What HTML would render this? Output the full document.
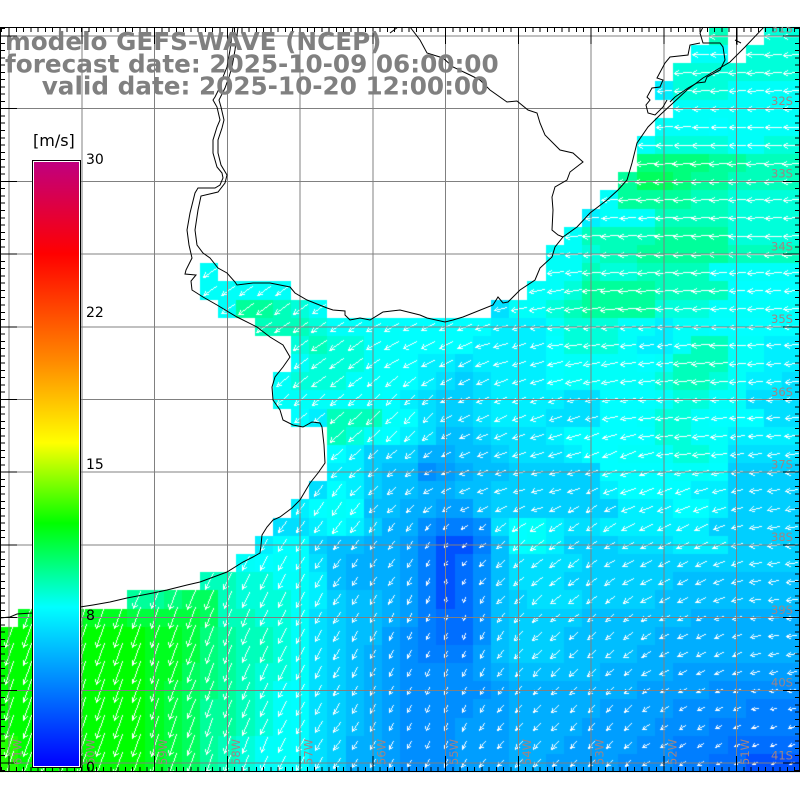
<!DOCTYPE html>
<html><head><meta charset="utf-8">
<style>
html,body{margin:0;padding:0;background:#fff;}
#wrap{position:relative;width:800px;height:800px;overflow:hidden;background:#fff;}
canvas,svg{position:absolute;left:0;top:0;}
</style></head><body>
<div id="wrap">
<canvas id="c" width="800" height="800"></canvas>
<svg width="800" height="800" viewBox="0 0 800 800" xmlns="http://www.w3.org/2000/svg">
<defs>
<clipPath id="mc"><rect x="0" y="27" width="800" height="745"/></clipPath>
<linearGradient id="cb" x1="0" y1="0" x2="0" y2="1">
<stop offset="0" stop-color="#c0007f"/>
<stop offset="0.152" stop-color="#ff0000"/>
<stop offset="0.328" stop-color="#ff8800"/>
<stop offset="0.465" stop-color="#ffff00"/>
<stop offset="0.598" stop-color="#00ff00"/>
<stop offset="0.737" stop-color="#00ffff"/>
<stop offset="1" stop-color="#0000ff"/>
</linearGradient>
</defs>
<g stroke="#808080" stroke-width="1" shape-rendering="crispEdges" clip-path="url(#mc)">
<line x1="9" y1="27" x2="9" y2="772"/><line x1="81.75" y1="27" x2="81.75" y2="772"/><line x1="154.5" y1="27" x2="154.5" y2="772"/><line x1="227.25" y1="27" x2="227.25" y2="772"/><line x1="300" y1="27" x2="300" y2="772"/><line x1="372.75" y1="27" x2="372.75" y2="772"/><line x1="445.5" y1="27" x2="445.5" y2="772"/><line x1="518.25" y1="27" x2="518.25" y2="772"/><line x1="591" y1="27" x2="591" y2="772"/><line x1="663.75" y1="27" x2="663.75" y2="772"/><line x1="736.5" y1="27" x2="736.5" y2="772"/>
<line x1="0" y1="36" x2="800" y2="36"/><line x1="0" y1="108.7" x2="800" y2="108.7"/><line x1="0" y1="181.4" x2="800" y2="181.4"/><line x1="0" y1="254.1" x2="800" y2="254.1"/><line x1="0" y1="326.8" x2="800" y2="326.8"/><line x1="0" y1="399.5" x2="800" y2="399.5"/><line x1="0" y1="472.2" x2="800" y2="472.2"/><line x1="0" y1="544.9" x2="800" y2="544.9"/><line x1="0" y1="617.6" x2="800" y2="617.6"/><line x1="0" y1="690.3" x2="800" y2="690.3"/><line x1="0" y1="763" x2="800" y2="763"/>
</g>
<g fill="none" stroke="#000" stroke-width="1" clip-path="url(#mc)">
<polyline points="764,27 745,47 730,62 703,78 687,90 673,103 660,115 648,127 637,143 632,163 627,180 618,190 607,200 590,213 577,227 563,237 555,247 552,257 540,268 535,280 520,290 508,302 503,303 498,297 493,305 463,317 453,320 445,322 427,318 420,315 400,310 383,312 370,320 360,318 350,320 345,315 345,311 333,310 327,308 307,300 295,293 290,287 270,283 253,283 237,285 235,282 227,273 218,268 210,258 203,253 197,245 195,230 198,210 201,196 218,192 225,183 227,175 221,165 218,153 218,140 222,128 224,120 221,107 219,100 225,88 229,77 232,67 235,50 238,27"/>
<polyline points="233,27 230,50 227,67 223,77 220,87 215,97 213,100 217,107 220,120 217,127 213,140 213,153 217,167 222,173 223,178 220,185 215,188 198,188 195,193 190,213 187,230 189,245 192,258 186,270 185,274 196,275 191,281 192,290 203,297 217,305 237,317 257,327 270,337 283,345 290,357 283,367 275,377 272,387 273,400 280,410 283,420 293,425 303,427 312,422 320,423 322,427 324,445 325,463 318,473 310,483 300,500 292,508 280,517 273,520 267,527 262,535 261,545 260,553 253,557 243,562 227,572 200,582 187,585 167,590 153,593 127,598 110,602 93,605 80,607 32,613 17,614 10,617 0,618"/>
<polyline points="410,27 420,40 427,53 443,58 453,67 470,75 480,80 490,90 507,102 517,101 528,110 537,113 540,123 545,135 560,150 573,153 583,162 570,172 567,180 555,187 552,197 553,210 552,230 558,235 563,237"/>
<polyline points="390,33 398,27"/>
<polyline points="703,27 700,33 703,43 720,43 723,47 725,60 720,70 707,77 705,82 697,83 688,88 675,97 670,102"/>
<polyline points="700,43 690,45 688,55 670,57 665,63 657,78 663,80 660,87 652,88 647,97 650,100 646,105 648,113 655,115 663,107 667,100"/>
<polyline points="737,27 737,45"/><polyline points="735,40 741,43"/>
</g>
<g stroke="#000" shape-rendering="crispEdges" fill="none">
<rect x="0.5" y="27.5" width="799" height="744" stroke-width="1"/>
<line x1="1.225" y1="29.5" x2="800" y2="29.5" stroke-width="5" stroke-dasharray="1 6.275"/>
<line x1="1.225" y1="769.5" x2="800" y2="769.5" stroke-width="5" stroke-dasharray="1 6.275"/>
<line x1="2.5" y1="28.23" x2="2.5" y2="772" stroke-width="5" stroke-dasharray="1 6.27"/>
<line x1="797.5" y1="28.23" x2="797.5" y2="772" stroke-width="5" stroke-dasharray="1 6.27"/>
<path stroke-width="1" d="M9,27V44M81.75,27V44M154.5,27V44M227.25,27V44M300,27V44M372.75,27V44M445.5,27V44M518.25,27V44M591,27V44M663.75,27V44M736.5,27V44
M9,756V772M81.75,756V772M154.5,756V772M227.25,756V772M300,756V772M372.75,756V772M445.5,756V772M518.25,756V772M591,756V772M663.75,756V772M736.5,756V772
M0,36H17M0,108.7H17M0,181.4H17M0,254.1H17M0,326.8H17M0,399.5H17M0,472.2H17M0,544.9H17M0,617.6H17M0,690.3H17M0,763H17
M783,36H800M783,108.7H800M783,181.4H800M783,254.1H800M783,326.8H800M783,399.5H800M783,472.2H800M783,544.9H800M783,617.6H800M783,690.3H800M783,763H800"/>
</g>
<g font-family="'DejaVu Sans','Liberation Sans',sans-serif" font-size="11.5" fill="#a08484" clip-path="url(#mc)">
<text x="771" y="32.3">31S</text><text x="771" y="105">32S</text><text x="771" y="177.7">33S</text><text x="771" y="250.4">34S</text><text x="771" y="323.1">35S</text><text x="771" y="395.8">36S</text><text x="771" y="468.5">37S</text><text x="771" y="541.2">38S</text><text x="771" y="613.9">39S</text><text x="771" y="686.6">40S</text><text x="771" y="759.3">41S</text>
<text transform="translate(21.5,765) rotate(-90)">61W</text>
<text transform="translate(94.25,765) rotate(-90)">60W</text>
<text transform="translate(167,765) rotate(-90)">59W</text>
<text transform="translate(239.75,765) rotate(-90)">58W</text>
<text transform="translate(312.5,765) rotate(-90)">57W</text>
<text transform="translate(385.25,765) rotate(-90)">56W</text>
<text transform="translate(458,765) rotate(-90)">55W</text>
<text transform="translate(530.75,765) rotate(-90)">54W</text>
<text transform="translate(603.5,765) rotate(-90)">53W</text>
<text transform="translate(676.25,765) rotate(-90)">52W</text>
<text transform="translate(749,765) rotate(-90)">51W</text>
</g>
<rect x="32.5" y="160.5" width="48" height="607" fill="#fff" stroke="#000" stroke-width="1" shape-rendering="crispEdges"/>
<rect x="34" y="162" width="45" height="604" fill="url(#cb)"/>
<g font-family="'DejaVu Sans','Liberation Sans',sans-serif" fill="#000">
<text x="33" y="146" font-size="16">[m/s]</text>
<text x="86" y="164" font-size="14">30</text>
<text x="86" y="317" font-size="14">22</text>
<text x="86" y="469" font-size="14">15</text>
<text x="86" y="620" font-size="14">8</text>
<text x="86" y="772" font-size="14">0</text>
</g>
<g font-family="'DejaVu Sans','Liberation Sans',sans-serif" font-weight="bold" font-size="24.7" fill="#808080">
<text x="5" y="50">modelo GEFS-WAVE (NCEP)</text>
<text x="5" y="72.7">forecast date: 2025-10-09 06:00:00</text>
<text x="41.7" y="94.3">valid date: 2025-10-20 12:00:00</text>
</g>
</svg>
</div>
<script>
(function(){
function R(n,s){var t='.'.repeat(n)+s;while(t.length<44)t+=t[t.length-1];return t.slice(0,44);}
var D='.';
var rows=[
R(39,"e..dd"),
R(38,"cc.ddd"),
R(37,"ddddddd"),
R(36,"adddcccc"),
R(37,"ccccccc"),
R(36,"cccbcccc"),
R(35,"cddddccdd"),
R(35,"ggggffeee"),
R(34,"fhhgffeeee"),
R(33,"cffffeedddd"),
R(32,"accceeeedddd"),
R(31,"ceeeeffffdddd"),
R(30,"ccdeefffffeeee"),
R(11,"c"+D.repeat(18)+"cceddeeeeccccc"),
R(11,"ccccc"+D.repeat(13)+"ccdffffeeeebbbb"),
R(12,"cffedc"+D.repeat(9)+"9ccdeffffdddccccc"),
R(14,"eeedccccbbbbbaaacdddccaccbbbbb"),
R(16,"deddccbbbbaaaabdddcaaceeccaa"),
R(16,"cdddccbaa9aaaabccccbceeeccaa"),
R(15,"cdddcccba989aaabcccccdeedcaa9"),
R(15,"ccccccba9889aaaa99bbbcddcc999"),
R(16,"baeeecb9889aaa999bbcddcbbb99"),
R(18,"edcba9778999abbbbbddccaaaa"),
R(18,"ba88866778999abbcccddc9999"),
R(18,"aa8774567788888bbbbccb8888"),
R(17,"9ba8776677888888abbbbaa8888"),
R(16,"abcb77665578888888aaabba8888"),
R(15,"99aba86643349bca99aaaaaa88888"),
R(14,"abb87766531137bca888999aaa8888"),
R(13,"cbcb976665312479999888888888888"),
R(11,"eeddcca76665312479998888887777777"),
R(7,"ffghhedddca87765312478999888877777777"),
R(1,"jjjjjj"+"iiii"+"h"+"eedd"+"c"+"9877"+"65"+"3224"+"7"+"8888"+"777777"+"666666"),
R(0,"kkkkkkkk"+"jjigfeedc"+"9877"+"54322"+"47"+"888"+"77777"+"66666666"),
R(0,"kkkkkkkk"+"jjigfeedc"+"9876"+"54333"+"57"+"888"+"7777"+"666666666"),
R(0,"kkkkkkkk"+"jjhgfeddc"+"9876"+"54444"+"56"+"77777"+"6666"+"5555555"),
R(0,"kkkkkkkk"+"jihgfedcb"+"9876"+"54444"+"45"+"6666666"+"5555"+"44444"),
R(0,"kkkkkkkk"+"jihffedcb"+"9876"+"54444"+"55"+"66666"+"5555"+"4444"+"333"),
R(0,"kkkkkkkk"+"jihffedcb"+"9876"+"54445"+"55"+"6666"+"5555"+"444"+"33333"),
R(0,"lkkkkkkk"+"jihfedccb"+"9866"+"54445"+"55"+"666"+"5555"+"44"+"333"+"2222"),
R(0,"lkkkkkkk"+"jihfedccb"+"9866"+"54445"+"55"+"66"+"5555"+"444"+"33"+"22"+"111")
];
var LV="0123456789abcdefghijkl";
function col(s){var r,g,b;if(s<=7.9){r=0;g=255*s/7.9;b=255;}else if(s<=12){r=0;g=255;b=255*(12-s)/4.1;}else{r=Math.min(255,255*(s-12)/4);g=255;b=0;}return 'rgb('+Math.round(r)+','+Math.round(g)+','+Math.round(b)+')';}
var CP=[[700,40,2],[640,150,3],[760,150,2],[620,260,3],[720,300,2],[560,320,8],[780,400,4],[660,420,6],[780,520,10],[620,470,20],[580,540,35],[680,560,25],[780,620,8],[600,640,40],[690,650,25],[780,720,15],[690,740,30],[590,740,50],[510,740,50],[450,720,65],[440,600,70],[500,560,40],[540,480,15],[470,470,20],[380,470,40],[400,420,45],[480,400,25],[520,350,15],[420,340,28],[330,350,35],[250,300,35],[300,410,40],[320,520,55],[380,560,55],[260,600,65],[340,680,60],[200,650,70],[80,680,72],[200,750,70],[370,750,58]];
function ang(x,y){var sw=0,sa=0;for(var k=0;k<CP.length;k++){var p=CP[k];var dx=x-p[0],dy=y-p[1];var d2=dx*dx+dy*dy+1;var w=1/(d2*d2);sw+=w;sa+=w*p[2];}return sa/sw;}
var cv=document.getElementById('c');var ctx=cv.getContext('2d');
var X0=9,DX=18.19,Y0=36,DY=18.175;
var cells=[];
for(var j=0;j<rows.length;j++){for(var i=0;i<44;i++){var ch=rows[j][i];if(ch==='.')continue;var idx=LV.indexOf(ch);if(idx<0)continue;var s=2+idx*0.5;
if(s>=3&&s<=7.5)s+=0.4;
var x0=Math.round(X0+DX*(i-0.5)),x1=Math.round(X0+DX*(i+0.5)),y0=Math.max(27,Math.round(Y0+DY*(j-0.5))),y1=Math.min(772,Math.round(Y0+DY*(j+0.5)));
ctx.fillStyle=col(s);ctx.fillRect(x0,y0,x1-x0,y1-y0);cells.push([X0+DX*i,Y0+DY*j,2+idx*0.5]);}}
ctx.fillStyle='#fff';
function px(x,y){if(y<28||y>771||x<0||x>799)return;ctx.fillRect(x,y,1,1);}
function ln(ax,ay,bx,by){ax=Math.round(ax);ay=Math.round(ay);bx=Math.round(bx);by=Math.round(by);
var dx=Math.abs(bx-ax),dy=-Math.abs(by-ay),sx=ax<bx?1:-1,sy=ay<by?1:-1,err=dx+dy,n=0;
while(n++<200){px(ax,ay);if(ax===bx&&ay===by)break;var e2=2*err;if(e2>=dy){err+=dy;ax+=sx;}if(e2<=dx){err+=dx;ay+=sy;}}}
var ca=Math.cos(0.5),sa=Math.sin(0.5);
for(var n=0;n<cells.length;n++){var cx=cells[n][0],cy=cells[n][1],s=cells[n][2];
var a=ang(cx,cy)*Math.PI/180;var dx=-Math.cos(a),dy=Math.sin(a);var L=2*s;
var hx=cx+dx*L/2,hy=cy+dy*L/2,tx=cx-dx*L/2,ty=cy-dy*L/2;var h=Math.min(5,0.35*L+1);
var bx=-dx,by=-dy;var b1x=bx*ca-by*sa,b1y=bx*sa+by*ca,b2x=bx*ca+by*sa,b2y=-bx*sa+by*ca;
ln(tx,ty,hx,hy);ln(hx,hy,hx+b1x*h,hy+b1y*h);ln(hx,hy,hx+b2x*h,hy+b2y*h);}
})();
</script>
</body></html>
